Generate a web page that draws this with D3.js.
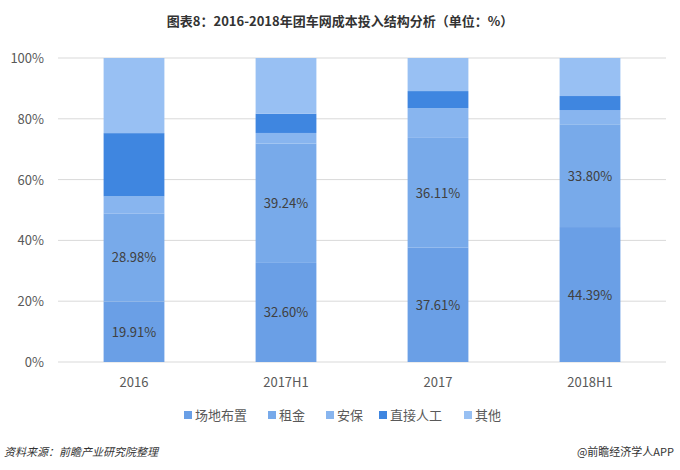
<!DOCTYPE html>
<html><head><meta charset="utf-8">
<script src="https://cdn.jsdelivr.net/npm/d3@7"></script>
<style>body{margin:0;background:#fff}</style>
</head><body><div id="chart"></div>
<script>
var categories = ['2016', '2017H1', '2017', '2018H1'];
var seriesNames = ['场地布置', '租金', '安保', '直接人工', '其他'];
var venue = [19.91, 32.60, 37.61, 44.39];
var rent = [28.98, 39.24, 36.11, 33.80];
var security = [5.6, 3.5, 9.8, 4.7];
var labour = [20.8, 6.3, 5.6, 4.6];
var other = [24.71, 18.36, 10.88, 12.51];
var yTicks = [0, 20, 40, 60, 80, 100];
var colors = ['#6a9fe6', '#78aaea', '#88b5ef', '#3f86e0', '#98c0f3'];

var W = 680, H = 470;
var svg = d3.select('#chart').append('svg').attr('width', W).attr('height', H)
  .style('font-family', '"Noto Sans CJK SC", "Open Sans", sans-serif');

var x = d3.scaleBand().domain(categories).range([58, 666]).paddingInner(0.6).paddingOuter(0.3);
var y = d3.scaleLinear().domain([0, 100]).range([362, 58]);

svg.append('text').attr('x', W/2).attr('y', 26).attr('text-anchor', 'middle')
  .attr('font-size', 13).attr('font-weight', 'bold').attr('fill', '#333')
  .text('图表8：2016-2018年团车网成本投入结构分析（单位：%）');

yTicks.forEach(function(t) {
  svg.append('line').attr('x1', 58).attr('x2', 666).attr('y1', y(t)).attr('y2', y(t))
    .attr('stroke', '#d9d9d9');
  svg.append('text').attr('x', 44).attr('y', y(t) + 5).attr('text-anchor', 'end')
    .attr('font-size', 13).attr('fill', '#595959').text(t + '%');
});

var data = categories.map(function(c, i) {
  return {cat: c, v: [venue[i], rent[i], security[i], labour[i], other[i]]};
});

data.forEach(function(d) {
  var acc = 0;
  d.v.forEach(function(v, k) {
    svg.append('rect').attr('x', x(d.cat)).attr('width', x.bandwidth())
      .attr('y', y(acc + v)).attr('height', y(acc) - y(acc + v)).attr('fill', colors[k]);
    if (k < 2) {
      svg.append('text').attr('x', x(d.cat) + x.bandwidth()/2).attr('y', y(acc + v/2) + 5)
        .attr('text-anchor', 'middle').attr('font-size', 13).attr('fill', '#404040')
        .text(v.toFixed(2) + '%');
    }
    acc += v;
  });
  svg.append('text').attr('x', x(d.cat) + x.bandwidth()/2).attr('y', 387)
    .attr('text-anchor', 'middle').attr('font-size', 13).attr('fill', '#595959').text(d.cat);
});

var lx = [184, 268, 326, 379, 464];
seriesNames.forEach(function(n, k) {
  svg.append('rect').attr('x', lx[k]).attr('y', 411).attr('width', 8).attr('height', 8).attr('fill', colors[k]);
  svg.append('text').attr('x', lx[k] + 11).attr('y', 420).attr('font-size', 13).attr('fill', '#595959').text(n);
});

svg.append('text').attr('x', 4).attr('y', 456).attr('font-size', 11).attr('font-style', 'italic')
  .attr('fill', '#333').text('资料来源：前瞻产业研究院整理');
svg.append('text').attr('x', 674).attr('y', 456).attr('text-anchor', 'end').attr('font-size', 11)
  .attr('fill', '#333').text('@前瞻经济学人APP');
</script></body></html>
